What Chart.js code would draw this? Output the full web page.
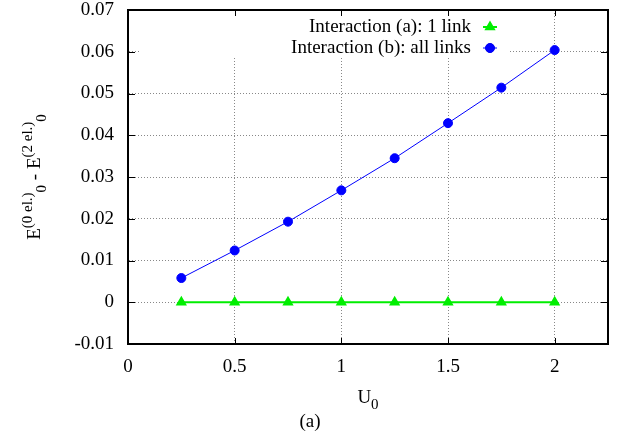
<!DOCTYPE html>
<html>
<head>
<meta charset="utf-8">
<script src="https://cdn.jsdelivr.net/npm/chart.js@4"></script>
<style>
  html, body { margin: 0; padding: 0; background: #fff; }
  #wrap { width: 630px; height: 441px; position: relative; }
</style>
</head>
<body>
<div id="wrap"><canvas id="chart"></canvas></div>
<script>
// data
const uValues = [0.25, 0.5, 0.75, 1.0, 1.25, 1.5, 1.75, 2.0];
const oneLink = [0, 0, 0, 0, 0, 0, 0, 0];
const allLinks = [0.0058, 0.0124, 0.0193, 0.0268, 0.0345, 0.0429, 0.0514, 0.0604];
const xTicks = [0, 0.5, 1, 1.5, 2];
const yTicks = [-0.01, 0, 0.01, 0.02, 0.03, 0.04, 0.05, 0.06, 0.07];
const yTickLabels = ['-0.01', '0', '0.01', '0.02', '0.03', '0.04', '0.05', '0.06', '0.07'];
const seriesLabels = ['Interaction (a): 1 link', 'Interaction (b): all links'];

const FONT = '"Liberation Serif", "Times New Roman", serif';
const FS = 19;

function toPoints(ys) {
  return uValues.map((x, i) => ({ x: x, y: ys[i] }));
}

// draw text made of pieces, some raised or lowered
function richWidth(ctx, parts) {
  let w = 0;
  parts.forEach(p => {
    ctx.font = (p.s ? Math.round(FS * 0.78) : FS) + 'px ' + FONT;
    w += ctx.measureText(p.t).width;
  });
  return w;
}
function drawRich(ctx, parts, x, y) {
  let cx = x;
  parts.forEach(p => {
    ctx.font = (p.s ? Math.round(FS * 0.78) : FS) + 'px ' + FONT;
    let dy = 0;
    if (p.s === 'sup') dy = -8;
    if (p.s === 'sub') dy = 6;
    ctx.fillText(p.t, cx, y + dy);
    cx += ctx.measureText(p.t).width;
  });
}

const gnuplotLook = {
  id: 'gnuplotLook',
  beforeDatasetsDraw(chart) {
    // opaque box behind the key
    const a = chart.chartArea, ctx = chart.ctx;
    ctx.save();
    ctx.fillStyle = '#fff';
    ctx.fillRect(a.left + 12, a.top + 1, a.right - 100 - (a.left + 12), 47);
    ctx.restore();
  },
  afterDatasetsDraw(chart) {
    const a = chart.chartArea, ctx = chart.ctx;
    const xs = chart.scales.x, ys = chart.scales.y;
    ctx.save();
    ctx.setLineDash([]);
    ctx.strokeStyle = '#000';
    ctx.lineWidth = 1;
    // inward tick marks, mirrored
    ctx.beginPath();
    xTicks.forEach(v => {
      const px = Math.round(xs.getPixelForValue(v)) + 0.5;
      ctx.moveTo(px, a.bottom); ctx.lineTo(px, a.bottom - 6);
      ctx.moveTo(px, a.top); ctx.lineTo(px, a.top + 6);
    });
    yTicks.forEach(v => {
      const py = Math.round(ys.getPixelForValue(v)) + 0.5;
      ctx.moveTo(a.left, py); ctx.lineTo(a.left + 7, py);
      ctx.moveTo(a.right, py); ctx.lineTo(a.right - 7, py);
    });
    ctx.stroke();
    // border
    ctx.lineWidth = 2;
    ctx.strokeRect(a.left, a.top, a.right - a.left, a.bottom - a.top);

    // key
    ctx.fillStyle = '#000';
    ctx.textBaseline = 'middle';
    ctx.textAlign = 'right';
    ctx.font = FS + 'px ' + FONT;
    chart.data.datasets.forEach((ds, i) => {
      const y = a.top + 17 + i * 21;
      ctx.fillStyle = '#000';
      ctx.fillText(ds.label, a.right - 137, y);
      const mx = a.right - 118;
      ctx.strokeStyle = ds.borderColor;
      ctx.lineWidth = ds.borderWidth;
      ctx.beginPath();
      ctx.moveTo(mx - 7, y); ctx.lineTo(mx + 7, y);
      ctx.stroke();
      Chart.helpers.drawPoint(ctx, {
        pointStyle: ds.pointStyle, radius: ds.pointRadius, rotation: 0,
        borderWidth: 1
      }, mx, y);
      ctx.fillStyle = ds.pointBackgroundColor;
      ctx.fill();
    });
    ctx.restore();
  },
  afterDraw(chart) {
    const a = chart.chartArea, ctx = chart.ctx;
    ctx.save();
    ctx.fillStyle = '#000';
    ctx.textBaseline = 'alphabetic';
    ctx.textAlign = 'left';
    // x title
    const xt = [{ t: 'U' }, { t: '0', s: 'sub' }];
    drawRich(ctx, xt, (a.left + a.right) / 2 - richWidth(ctx, xt) / 2, 403);
    // caption
    ctx.font = FS + 'px ' + FONT;
    ctx.textAlign = 'center';
    ctx.fillText('(a)', 310, 427);
    ctx.textAlign = 'left';
    // y title, rotated
    const yt = [
      { t: 'E' }, { t: '(0 el.)', s: 'sup' }, { t: '0', s: 'sub' },
      { t: ' - E' }, { t: '(2 el.)', s: 'sup' }, { t: '0', s: 'sub' }
    ];
    ctx.translate(40, (a.top + a.bottom) / 2);
    ctx.rotate(-Math.PI / 2);
    drawRich(ctx, yt, -richWidth(ctx, yt) / 2, 0);
    ctx.restore();
  }
};

const gridStyle = {
  color: '#888',
  lineWidth: 1,
  drawTicks: false
};
const borderStyle = { display: true, color: '#000', width: 2, dash: [1, 2] };

new Chart(document.getElementById('chart'), {
  type: 'line',
  data: {
    datasets: [
      {
        label: seriesLabels[0],
        data: toPoints(oneLink),
        borderColor: '#00ee00',
        backgroundColor: '#00ee00',
        pointBackgroundColor: '#00ee00',
        pointBorderColor: '#00ee00',
        pointStyle: 'triangle',
        pointRadius: 4.5,
        borderWidth: 2,
        tension: 0
      },
      {
        label: seriesLabels[1],
        data: toPoints(allLinks),
        borderColor: '#0000ff',
        backgroundColor: '#0000ff',
        pointBackgroundColor: '#0000ff',
        pointBorderColor: '#0000ff',
        pointStyle: 'circle',
        pointRadius: 4.5,
        borderWidth: 1,
        tension: 0
      }
    ]
  },
  options: {
    responsive: true,
    maintainAspectRatio: false,
    animation: false,
    layout: { padding: { left: 0, top: 10, right: 22, bottom: 0 } },
    plugins: {
      legend: { display: false },
      tooltip: { enabled: false }
    },
    scales: {
      x: {
        type: 'linear',
        min: 0,
        max: 2.25,
        afterBuildTicks: s => { s.ticks = xTicks.map(v => ({ value: v })); },
        afterFit: s => { s.height = 97; s.paddingLeft = 0; s.paddingRight = 0; },
        grid: gridStyle,
        border: borderStyle,
        ticks: {
          color: '#000',
          padding: 12,
          maxRotation: 0,
          font: { family: FONT, size: FS },
          callback: v => String(v)
        }
      },
      y: {
        type: 'linear',
        min: -0.01,
        max: 0.07,
        afterBuildTicks: s => { s.ticks = yTicks.map(v => ({ value: v })); },
        afterFit: s => { s.width = 128; s.paddingTop = 0; s.paddingBottom = 0; },
        grid: gridStyle,
        border: borderStyle,
        ticks: {
          color: '#000',
          padding: 14,
          font: { family: FONT, size: FS },
          callback: (v, i) => yTickLabels[i]
        }
      }
    }
  },
  plugins: [gnuplotLook]
});
</script>
</body>
</html>
